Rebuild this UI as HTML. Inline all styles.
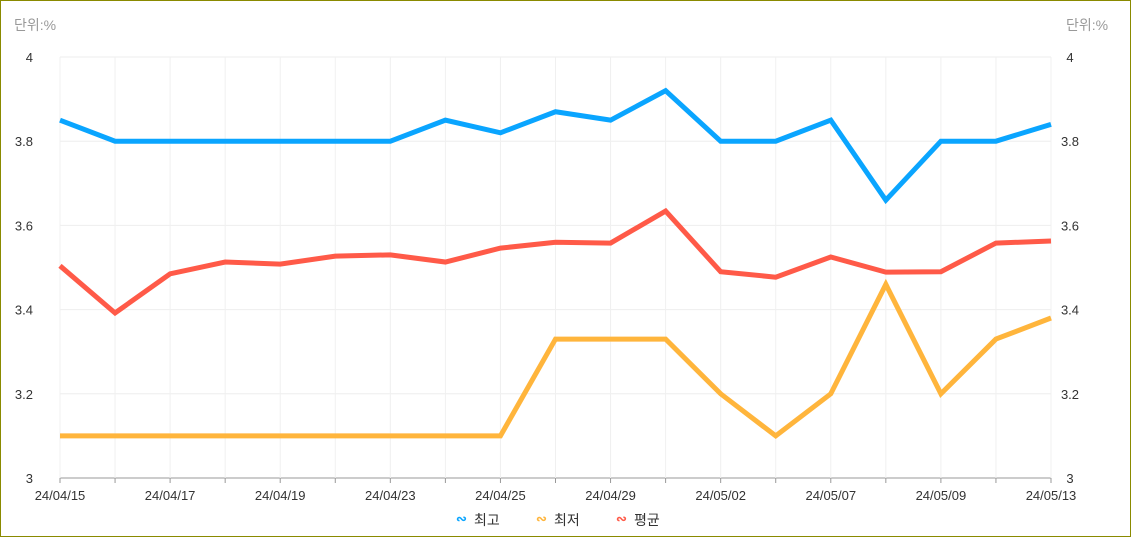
<!DOCTYPE html>
<html><head><meta charset="utf-8"><style>
body{margin:0;background:#fff;}
#wrap{position:relative;width:1129px;height:535px;border:1px solid #8a8a00;}
svg text{font-family:"Liberation Sans","Noto Sans CJK KR",sans-serif;}
</style></head><body>
<div id="wrap">
<svg id="chart" width="1129" height="535"></svg>
</div>
<script>
const categories=["24/04/15","24/04/16","24/04/17","24/04/18","24/04/19","24/04/22","24/04/23","24/04/24","24/04/25","24/04/26","24/04/29","24/04/30","24/05/02","24/05/03","24/05/07","24/05/08","24/05/09","24/05/10","24/05/13"];
const highValues=[3.85,3.80,3.80,3.80,3.80,3.80,3.80,3.85,3.82,3.87,3.85,3.92,3.80,3.80,3.85,3.66,3.80,3.80,3.84];
const lowValues=[3.1,3.1,3.1,3.1,3.1,3.1,3.1,3.1,3.1,3.33,3.33,3.33,3.2,3.1,3.2,3.46,3.2,3.33,3.38];
const avgValues=[3.504,3.392,3.485,3.513,3.508,3.527,3.53,3.513,3.546,3.56,3.558,3.634,3.49,3.477,3.525,3.489,3.49,3.558,3.563];
const yTicks=[3,3.2,3.4,3.6,3.8,4];
const seriesNames=["최고","최저","평균"];
const NS="http://www.w3.org/2000/svg";
const svg=document.getElementById('chart');
const x0=59,x1=1050,yTop=56,yBot=477;
const xs=i=>x0+(x1-x0)*i/(categories.length-1);
const ys=v=>yBot-(v-3)/(4-3)*(yBot-yTop);
function mk(t,a){const e=document.createElementNS(NS,t);for(const k in a)e.setAttribute(k,a[k]);svg.appendChild(e);return e;}
// gridlines
yTicks.forEach(v=>{
 const l=mk('line',{x1:x0,x2:x1,y1:ys(v),y2:ys(v),stroke:v===3?'#999':'#eee','stroke-width':1});
 
 
 const t=mk('text',{x:32,y:ys(v)+5,'text-anchor':'end','font-size':13,fill:'#333'});t.textContent=v;
 
 
 const t2=mk('text',{x:1069,y:ys(v)+5,'text-anchor':'middle','font-size':13,fill:'#333'});t2.textContent=v;
 
 
});
categories.forEach((c,i)=>{
 const g=mk('line',{x1:xs(i),x2:xs(i),y1:yTop,y2:yBot,stroke:'#f0f0f0','stroke-width':1});
 
 
 const tk=mk('line',{x1:xs(i),x2:xs(i),y1:yBot,y2:yBot+5,stroke:'#999'});
 
 
 if(i%2===0){
  const t=mk('text',{x:xs(i),y:499,'text-anchor':'middle','font-size':13,fill:'#333'});t.textContent=c;
  
  
 }
});
const u1=mk('text',{x:13,y:29,'font-size':14,fill:'#999'});u1.textContent='단위:%';


const u2=mk('text',{x:1065,y:29,'font-size':14,fill:'#999'});u2.textContent='단위:%';


const colors=['#0aa5ff','#ffb53c','#ff5a48'];
[lowValues,avgValues,highValues].forEach((arr,k)=>{
 const col=[colors[1],colors[2],colors[0]][k];
 const p=mk('polyline',{points:arr.map((v,i)=>xs(i)+','+ys(v)).join(' '),fill:'none',stroke:col,'stroke-width':5,'stroke-linejoin':'miter'});
 
 
});
const lx=[455,535,615];
seriesNames.forEach((n,i)=>{
 const ic=mk('text',{x:lx[i],y:522,'font-size':13,'font-weight':'bold',fill:colors[i]});ic.textContent='∾';
 
 
 const t=mk('text',{x:lx[i]+18,y:524,'font-size':14,fill:'#333'});t.textContent=n;
 
 
});
</script>
</body></html>
